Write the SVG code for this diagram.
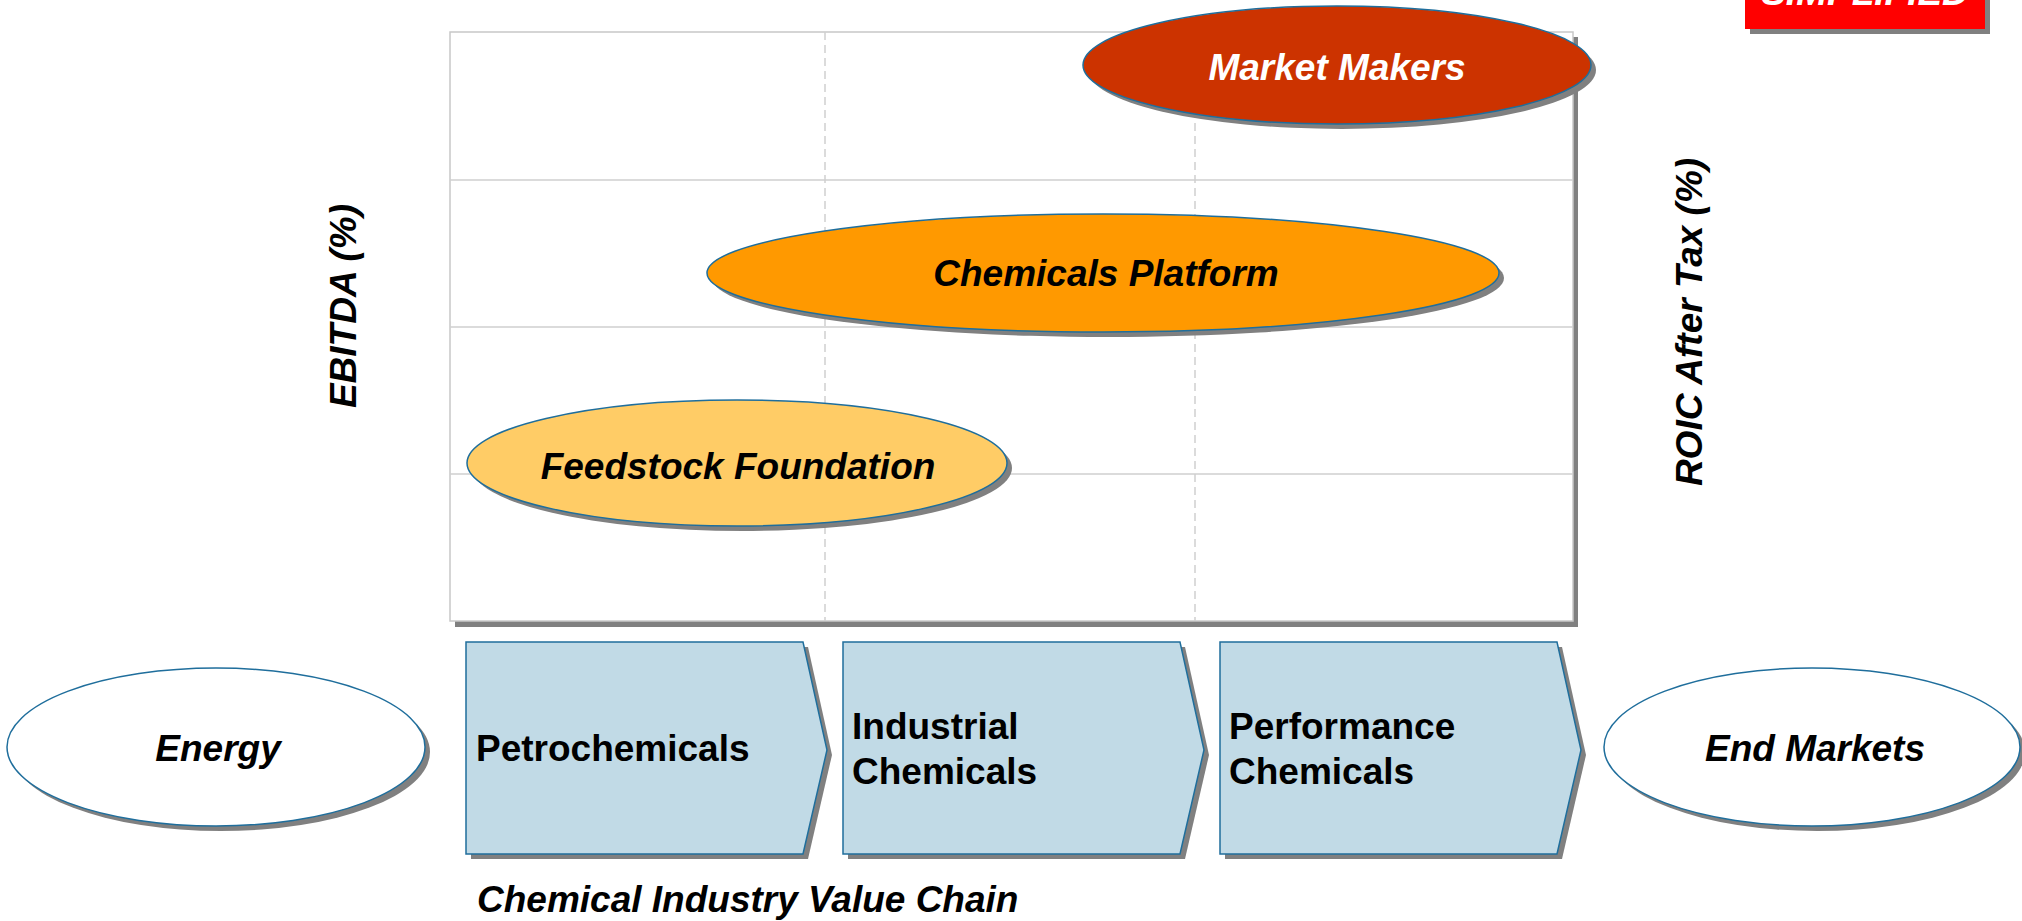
<svg xmlns="http://www.w3.org/2000/svg" width="2022" height="921" viewBox="0 0 2022 921">
<style>
.bi{font-family:"Liberation Sans",Arial,sans-serif;font-weight:bold;font-style:italic;font-size:37px}
.b{font-family:"Liberation Sans",Arial,sans-serif;font-weight:bold;font-size:37px;fill:#000}
.sh{fill:#808080}
.ol{stroke:#1F6E9C;stroke-width:1.5}
.grid{stroke:#CFCFCF;stroke-width:1.5;fill:none}
.chev{fill:#C1DAE6;stroke:#1F6E9C;stroke-width:1.5}
</style>
<defs>
<path id="chevShape" d="M0,0 H337 L361,108 L337,212 H0 Z"/>
</defs>
<rect width="2022" height="921" fill="#fff"/>

<g id="badge">
<rect class="sh" x="1750" y="-10" width="240" height="44"/>
<rect x="1745" y="-10" width="240" height="39" fill="#FF0000"/>
<text class="bi" x="1865" y="5" text-anchor="middle" fill="#fff">SIMPLIFIED</text>
</g>

<g id="chart">
<rect class="sh" x="455" y="37" width="1123" height="590"/>
<rect x="450" y="32" width="1123" height="589" fill="#fff" stroke="#C8C8C8" stroke-width="1.5"/>
<line class="grid" x1="450" y1="180" x2="1573" y2="180"/>
<line class="grid" x1="450" y1="327" x2="1573" y2="327"/>
<line class="grid" x1="450" y1="474" x2="1573" y2="474"/>
<line class="grid" x1="825" y1="32" x2="825" y2="621" stroke-dasharray="8,5"/>
<line class="grid" x1="1195" y1="32" x2="1195" y2="621" stroke-dasharray="8,5"/>
</g>

<g id="axis-left"><text class="bi" fill="#000" transform="translate(356,306) rotate(-90)" text-anchor="middle">EBITDA (%)</text></g>
<g id="axis-right"><text class="bi" fill="#000" transform="translate(1702,322) rotate(-90)" text-anchor="middle">ROIC After Tax (%)</text></g>

<g id="market-makers">
<ellipse class="sh" cx="1342" cy="70" rx="254" ry="59"/>
<ellipse class="ol" cx="1337" cy="65" rx="254" ry="59" fill="#CC3300"/>
<text class="bi" x="1337" y="80" text-anchor="middle" fill="#fff">Market Makers</text>
</g>

<g id="chemicals-platform">
<ellipse class="sh" cx="1108" cy="278" rx="396" ry="59"/>
<ellipse class="ol" cx="1103" cy="273" rx="396" ry="59" fill="#FF9900"/>
<text class="bi" x="1106" y="286" text-anchor="middle" fill="#000">Chemicals Platform</text>
</g>

<g id="feedstock-foundation">
<ellipse class="sh" cx="742" cy="468" rx="270" ry="63"/>
<ellipse class="ol" cx="737" cy="463" rx="270" ry="63" fill="#FFCC66"/>
<text class="bi" x="738" y="479" text-anchor="middle" fill="#000">Feedstock Foundation</text>
</g>

<g id="energy">
<ellipse class="sh" cx="221" cy="752" rx="209" ry="79"/>
<ellipse class="ol" cx="216" cy="747" rx="209" ry="79" fill="#fff"/>
<text class="bi" x="218" y="761" text-anchor="middle" fill="#000">Energy</text>
</g>

<g id="end-markets">
<ellipse class="sh" cx="1817" cy="752" rx="208" ry="79"/>
<ellipse class="ol" cx="1812" cy="747" rx="208" ry="79" fill="#fff"/>
<text class="bi" x="1815" y="761" text-anchor="middle" fill="#000">End Markets</text>
</g>

<g id="petrochemicals">
<use href="#chevShape" class="sh" x="471" y="647"/>
<use href="#chevShape" class="chev" x="466" y="642"/>
<text class="b" x="476" y="761">Petrochemicals</text>
</g>

<g id="industrial-chemicals">
<use href="#chevShape" class="sh" x="848" y="647"/>
<use href="#chevShape" class="chev" x="843" y="642"/>
<text class="b" x="852" y="739">Industrial</text>
<text class="b" x="852" y="784">Chemicals</text>
</g>

<g id="performance-chemicals">
<use href="#chevShape" class="sh" x="1225" y="647"/>
<use href="#chevShape" class="chev" x="1220" y="642"/>
<text class="b" x="1229" y="739">Performance</text>
<text class="b" x="1229" y="784">Chemicals</text>
</g>

<g id="connectors"></g>

<text class="bi" x="477" y="912" fill="#000">Chemical Industry Value Chain</text>
</svg>
